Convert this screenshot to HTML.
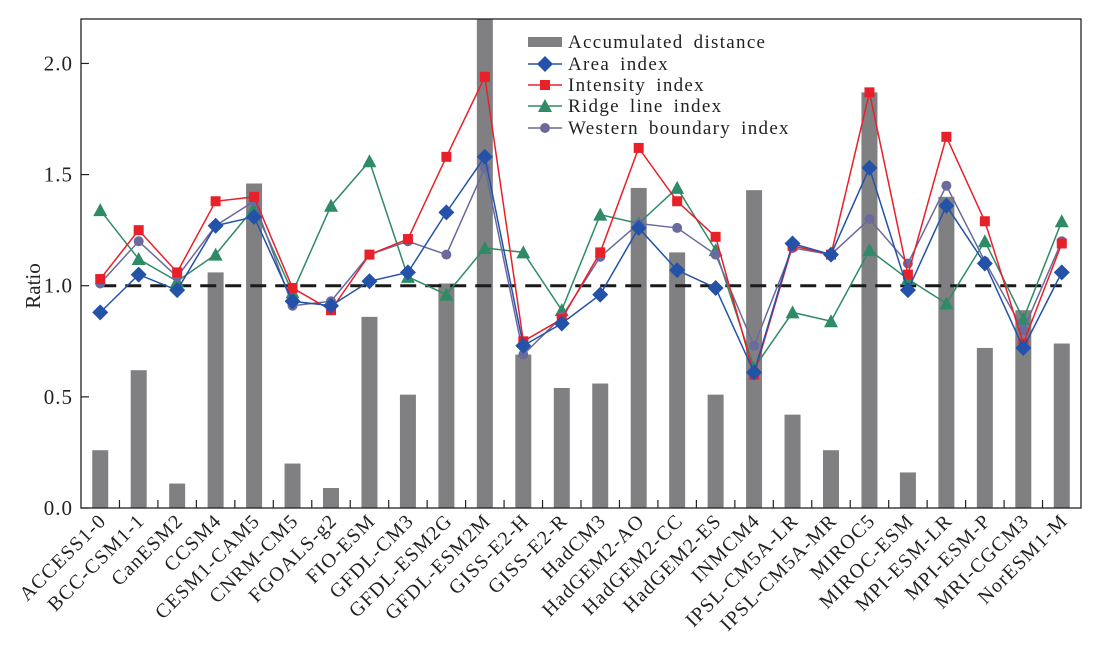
<!DOCTYPE html>
<html><head><meta charset="utf-8"><style>
body{margin:0;background:#fff}
svg{display:block;font-family:"Liberation Serif",serif}
</style></head><body>
<svg id="chart" width="1103" height="653"></svg>
<script>
const categories=["ACCESS1-0","BCC-CSM1-1","CanESM2","CCSM4","CESM1-CAM5","CNRM-CM5","FGOALS-g2","FIO-ESM","GFDL-CM3","GFDL-ESM2G","GFDL-ESM2M","GISS-E2-H","GISS-E2-R","HadCM3","HadGEM2-AO","HadGEM2-CC","HadGEM2-ES","INMCM4","IPSL-CM5A-LR","IPSL-CM5A-MR","MIROC5","MIROC-ESM","MPI-ESM-LR","MPI-ESM-P","MRI-CGCM3","NorESM1-M"];
const distance=[0.26,0.62,0.11,1.06,1.46,0.20,0.09,0.86,0.51,1.01,2.2,0.69,0.54,0.56,1.44,1.15,0.51,1.43,0.42,0.26,1.87,0.16,1.40,0.72,0.89,0.74];
const areaIdx=[0.88,1.05,0.98,1.27,1.31,0.93,0.91,1.02,1.06,1.33,1.58,0.73,0.83,0.96,1.26,1.07,0.99,0.61,1.19,1.14,1.53,0.98,1.36,1.10,0.72,1.06];
const intensityIdx=[1.03,1.25,1.06,1.38,1.40,0.99,0.89,1.14,1.21,1.58,1.94,0.75,0.85,1.15,1.62,1.38,1.22,0.60,1.18,1.14,1.87,1.05,1.67,1.29,0.74,1.19];
const ridgeIdx=[1.34,1.12,1.02,1.14,1.35,0.97,1.36,1.56,1.04,0.96,1.17,1.15,0.89,1.32,1.28,1.44,1.16,0.63,0.88,0.84,1.16,1.03,0.92,1.20,0.85,1.29];
const westernIdx=[1.01,1.20,1.04,1.27,1.38,0.91,0.93,1.14,1.20,1.14,1.53,0.69,0.86,1.13,1.28,1.26,1.14,0.73,1.17,1.14,1.30,1.10,1.45,1.11,0.80,1.20];
const yTicks=[0,0.5,1.0,1.5,2.0];
const yTickLabels=["0.0","0.5","1.0","1.5","2.0"];

const NS="http://www.w3.org/2000/svg";
const svg=document.getElementById('chart');
const L=81,T=19,R=1081,B=508,YMAX=2.2;
const band=(R-L)/categories.length;
const x=i=>L+(i+0.5)*band;
const y=v=>B-(Math.min(v,YMAX)/YMAX)*(B-T);
function mk(tag,attrs,parent){const e=document.createElementNS(NS,tag);for(const k in attrs)e.setAttribute(k,attrs[k]);(parent||svg).appendChild(e);return e;}

const gBars=mk('g',{});


distance.forEach((v,i)=>{
  const r=mk('rect',{x:x(i)-8,y:y(v),width:16,height:B-y(v),fill:'#808083'},gBars);
  
  
});
const ref=mk('line',{x1:x(0),x2:x(categories.length-1),y1:y(1),y2:y(1),stroke:'#1a1a1a','stroke-width':3,'stroke-dasharray':'16,9'});



function marker(g,type,cx,cy,color){
  if(type==='diamond')return mk('polygon',{points:`${cx},${cy-8} ${cx+8},${cy} ${cx},${cy+8} ${cx-8},${cy}`,fill:color},g);
  if(type==='square')return mk('rect',{x:cx-5,y:cy-5,width:10,height:10,fill:color},g);
  if(type==='triangle')return mk('polygon',{points:`${cx},${cy-7} ${cx+7},${cy+6} ${cx-7},${cy+6}`,fill:color},g);
  return mk('circle',{cx:cx,cy:cy,r:5,fill:color},g);
}
const series=[
  {name:'ridge-line-index',data:ridgeIdx,color:'#2e8b66',m:'triangle'},
  {name:'western-boundary-index',data:westernIdx,color:'#6a6a9c',m:'circle'},
  {name:'intensity-index',data:intensityIdx,color:'#e8202a',m:'square'},
  {name:'area-index',data:areaIdx,color:'#2352a8',m:'diamond'}
];
series.forEach(s=>{
  const g=mk('g',{});
  
  
  const p=mk('polyline',{points:s.data.map((v,i)=>x(i)+','+y(v)).join(' '),fill:'none',stroke:s.color,'stroke-width':1.5},g);
  
  
  s.data.forEach((v,i)=>{
    const m=marker(g,s.m,x(i),y(v),s.color);
    
    
  });
});
const fr=mk('rect',{x:L,y:T,width:R-L,height:B-T,fill:'none',stroke:'#222','stroke-width':1.3});


yTicks.forEach((v,i)=>{
  const t=mk('line',{x1:L,x2:L+8,y1:y(v),y2:y(v),stroke:'#222','stroke-width':1.2});
  
  
  const tx=mk('text',{x:L-8,y:y(v)+7,'text-anchor':'end','font-size':21,'letter-spacing':1,fill:'#222'});
  tx.textContent=yTickLabels[i];
  
  
});
categories.forEach((c,i)=>{
  if(i>0){const t=mk('line',{x1:L+i*band,x2:L+i*band,y1:B,y2:B-8,stroke:'#222','stroke-width':1.2});
  
  }
  const tx=mk('text',{x:x(i)+7,y:B+14,'text-anchor':'end','font-size':20,'letter-spacing':1.2,fill:'#222',transform:`rotate(-45 ${x(i)+7} ${B+14})`});
  tx.textContent=c;
  
  
});
const yl=mk('text',{x:40,y:286,'text-anchor':'middle','font-size':21,fill:'#222',transform:'rotate(-90 40 286)'});
yl.textContent='Ratio';


const lg=mk('g',{});


const leg=[['Accumulated distance','#808083','bar'],['Area index','#2352a8','diamond'],['Intensity index','#e8202a','square'],['Ridge line index','#2e8b66','triangle'],['Western boundary index','#6a6a9c','circle']];
const ly=[42,64,85,106,128];
leg.forEach((e,k)=>{
  const g=mk('g',{},lg);
  
  
  if(e[2]==='bar')mk('rect',{x:528,y:ly[k]-5,width:34,height:10,fill:e[1]},g);
  else{mk('line',{x1:528,x2:562,y1:ly[k],y2:ly[k],stroke:e[1],'stroke-width':1.5},g);marker(g,e[2],545,ly[k],e[1]);}
  const t=mk('text',{x:568,y:ly[k]+6,'font-size':19,'letter-spacing':1.3,'word-spacing':4,fill:'#222'},g);
  t.textContent=e[0];
});
</script>
</body></html>
